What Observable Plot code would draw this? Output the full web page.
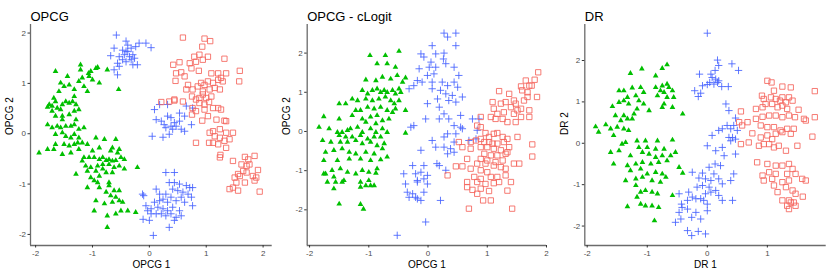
<!DOCTYPE html>
<html><head><meta charset="utf-8">
<script src="https://cdn.jsdelivr.net/npm/d3@7"></script>
<script src="https://cdn.jsdelivr.net/npm/@observablehq/plot@0.6"></script>
<style>
body{margin:0;background:#fff;font-family:"Liberation Sans",Arial,sans-serif}
#root{position:relative;width:831px;height:277px;overflow:hidden}
#root svg{position:absolute;top:0}
</style></head>
<body><div id="root"></div>
<script>
const tickValues = [-2, -1, 0, 1, 2];

const opcgGreen = [[-1.65,1.24],[-1.44,1.14],[-1.21,1.37],[-1.03,1.24],[-0.94,1.30],[-0.91,1.32],[-1.21,1.27],[-1.18,1.11],[-1.07,1.20],[-1.06,1.14],[-1.00,1.07],[-0.88,1.01],[-0.74,1.27],[-0.54,0.88],[-1.56,1.01],[-1.50,0.94],[-1.41,0.97],[-1.32,0.88],[-1.24,1.04],[-1.15,0.94],[-1.09,0.84],[-1.59,0.84],[-1.68,0.71],[-1.76,0.58],[-1.79,0.53],[-1.71,0.55],[-1.65,0.64],[-1.62,0.51],[-1.56,0.48],[-1.53,0.58],[-1.47,0.64],[-1.41,0.61],[-1.35,0.64],[-1.32,0.74],[-1.29,0.58],[-1.71,0.45],[-1.65,0.35],[-1.53,0.35],[-1.41,0.38],[-1.32,0.45],[-1.24,0.48],[-1.53,0.28],[-1.29,0.28],[-1.79,0.18],[-1.71,0.12],[-1.62,0.15],[-1.56,0.12],[-1.47,0.15],[-1.38,0.15],[-1.32,0.18],[-1.24,0.09],[-1.15,0.12],[-1.65,-0.01],[-1.53,0.02],[-1.47,-0.05],[-1.38,-0.08],[-1.32,-0.01],[-1.24,-0.08],[-1.65,-0.21],[-1.50,-0.21],[-1.41,-0.24],[-1.32,-0.21],[-1.26,-0.18],[-1.18,-0.18],[-1.09,-0.21],[-1.94,-0.38],[-1.79,-0.31],[-1.68,-0.31],[-1.53,-0.41],[-1.38,-0.38],[-1.24,-0.31],[-0.94,-0.08],[-0.79,-0.11],[-0.59,-0.11],[-0.65,-0.28],[-0.53,-0.31],[-0.56,-0.38],[-0.68,-0.34],[-0.88,-0.28],[-1.00,-0.34],[-1.15,-0.47],[-1.18,-0.54],[-1.06,-0.47],[-0.97,-0.47],[-0.88,-0.51],[-0.82,-0.47],[-0.76,-0.53],[-0.71,-0.51],[-0.65,-0.54],[-0.59,-0.53],[-0.50,-0.47],[-0.44,-0.51],[-1.12,-0.64],[-1.03,-0.67],[-0.91,-0.64],[-0.82,-0.61],[-0.71,-0.61],[-0.62,-0.67],[-0.53,-0.64],[-0.44,-0.70],[-0.21,-0.67],[-1.29,-0.80],[-1.09,-0.74],[-0.94,-0.74],[-0.82,-0.70],[-0.76,-0.77],[-0.65,-0.77],[-0.88,-0.84],[-1.03,-0.87],[-0.97,-0.93],[-0.91,-0.97],[-0.71,-0.97],[-1.09,-1.07],[-0.88,-1.07],[-0.71,-1.03],[-0.62,-1.13],[-0.53,-1.13],[-0.76,-1.16],[-0.68,-1.23],[-0.59,-1.26],[-0.53,-1.33],[-0.47,-1.36],[-0.94,-1.33],[-0.79,-1.39],[-0.65,-1.36],[-0.50,-1.53],[-0.38,-1.53],[-0.24,-1.56],[-0.97,-1.53],[-0.74,-1.63],[-0.59,-1.59],[-0.74,-1.86]];
const opcgBlue = [[-0.58,1.96],[-0.41,1.84],[-0.62,1.70],[-0.47,1.66],[-0.38,1.63],[-0.32,1.70],[-0.24,1.73],[-0.18,1.80],[-0.06,1.80],[0.03,1.71],[-0.68,1.55],[-0.53,1.53],[-0.44,1.57],[-0.35,1.53],[-0.29,1.57],[-0.26,1.50],[-0.32,1.47],[-0.41,1.43],[-0.47,1.47],[-0.56,1.40],[-0.62,1.27],[-0.53,1.34],[-0.29,1.37],[-0.21,1.37],[-0.56,1.17],[-0.41,1.64],[-0.38,1.76],[0.09,0.48],[0.18,0.58],[0.32,0.58],[0.53,0.41],[0.12,0.28],[0.21,0.25],[0.26,0.18],[0.32,0.35],[0.38,0.32],[0.44,0.22],[0.53,0.25],[0.62,0.35],[0.29,0.12],[0.38,0.15],[0.47,0.15],[0.56,0.09],[0.62,0.05],[0.76,0.51],[0.65,0.55],[0.05,-0.05],[0.24,-0.07],[0.35,-0.01],[0.41,0.09],[0.74,0.18],[0.29,-0.77],[0.44,-0.77],[0.12,-1.10],[0.35,-0.97],[0.44,-0.97],[0.53,-1.00],[0.65,-1.03],[0.71,-1.07],[0.76,-1.07],[0.41,-1.10],[0.50,-1.13],[0.59,-1.16],[0.68,-1.20],[0.29,-1.20],[0.38,-1.26],[0.24,-1.30],[0.18,-1.33],[0.09,-1.36],[0.32,-1.36],[0.47,-1.33],[0.56,-1.26],[0.15,-1.46],[0.24,-1.49],[0.32,-1.53],[0.41,-1.46],[0.53,-1.53],[0.03,-1.49],[-0.06,-1.43],[-0.12,-1.20],[-0.10,-1.23],[-0.03,-1.53],[0.03,-1.59],[0.12,-1.59],[0.21,-1.59],[0.29,-1.63],[0.38,-1.59],[0.47,-1.66],[0.56,-1.63],[-0.11,-1.70],[0,-1.72],[0.76,-1.43],[0.44,-1.72],[0.35,-1.86],[0.07,-2.02],[0.74,-1.26],[0.62,-1.36],[0.18,-1.20]];
const opcgRed = [[0.59,1.91],[0.97,1.89],[1.07,1.84],[0.93,1.73],[0.42,1.37],[0.53,1.42],[0.71,1.40],[0.82,1.43],[0.88,1.57],[0.79,1.53],[0.94,1.47],[1.03,1.53],[0.74,1.30],[0.87,1.25],[1.09,1.20],[1.21,1.20],[1.35,1.20],[1.32,1.49],[1.59,1.25],[1.58,1.04],[0.47,1.20],[0.56,1.22],[0.46,1.05],[0.62,1.14],[0.68,0.97],[0.76,0.88],[0.85,0.94],[0.91,1.01],[0.97,0.97],[1.03,1.04],[1.12,1.01],[1.21,1.07],[1.26,1.11],[1.29,1.04],[0.94,0.84],[1.06,0.88],[1.15,0.91],[1.24,0.88],[0.75,0.74],[0.82,0.68],[0.88,0.71],[0.94,0.78],[1.00,0.71],[1.09,0.74],[0.65,0.88],[0.44,0.66],[0.59,0.64],[0.76,0.51],[0.88,0.61],[0.97,0.58],[1.05,0.63],[1.12,0.51],[1.21,0.51],[1.26,0.48],[0.21,0.63],[0.44,0.68],[0.75,0.38],[0.82,0.45],[0.93,0.26],[1.03,0.35],[1.18,0.28],[1.35,0.25],[1.32,0.26],[0.97,0.48],[1.12,0.05],[1.24,0.09],[1.35,0.02],[1.47,0.02],[1.06,0.02],[1.15,-0.05],[1.24,-0.08],[1.32,-0.14],[1.05,-0.18],[1.12,-0.18],[1.21,-0.21],[1.41,-0.11],[1.24,-0.47],[1.25,-0.42],[1.35,-0.28],[0.82,-0.18],[1.47,-0.54],[1.68,-0.46],[1.74,-0.51],[1.85,-0.44],[1.62,-0.61],[1.71,-0.64],[1.76,-0.61],[1.65,-0.74],[1.71,-0.77],[1.56,-0.80],[1.50,-0.87],[1.59,-0.84],[1.53,-0.97],[1.68,-0.97],[1.82,-0.84],[1.88,-0.87],[1.85,-0.93],[1.91,-0.72],[1.41,-1.10],[1.47,-1.07],[1.56,-1.13],[1.94,-1.15],[0.35,0.64]];

const clogitGreen = [[-0.98,1.94],[-0.72,1.94],[-0.49,2.05],[-0.86,1.73],[-0.69,1.73],[-0.55,1.64],[-0.38,1.37],[-1.05,1.32],[-0.88,1.30],[-0.77,1.39],[-0.63,1.34],[-0.52,1.43],[-0.43,1.26],[-1.28,0.83],[-1.11,1.05],[-1.02,0.96],[-0.94,1.05],[-0.86,1.09],[-0.80,1.00],[-0.74,1.05],[-0.69,1.00],[-0.60,1.05],[-0.55,0.96],[-0.49,1.09],[-0.46,1.00],[-1.50,0.71],[-1.39,0.71],[-1.19,0.79],[-1.05,0.83],[-0.94,0.79],[-0.83,0.83],[-0.72,0.88],[-0.63,0.79],[-0.57,0.71],[-0.49,0.79],[-1.22,0.54],[-1.14,0.54],[-1.02,0.62],[-0.91,0.58],[-0.80,0.62],[-0.69,0.54],[-0.60,0.49],[-0.55,0.58],[-0.38,0.54],[-1.76,0.38],[-1.50,0.32],[-1.28,0.41],[-1.11,0.32],[-0.97,0.37],[-0.86,0.41],[-0.77,0.28],[-0.66,0.32],[-1.05,0.24],[-0.88,0.20],[-1.84,0.11],[-1.67,0.07],[-1.53,-0.02],[-1.45,-0.02],[-1.36,0.03],[-1.31,0.07],[-1.19,0.11],[-1.11,-0.02],[-0.97,0.07],[-0.88,-0.02],[-0.77,0.07],[-0.69,-0.02],[-1.50,-0.10],[-1.39,-0.14],[-1.28,-0.14],[-1.14,-0.10],[-1.02,-0.19],[-0.91,-0.14],[-0.80,-0.14],[-0.38,-0.04],[-1.78,-0.23],[-1.64,-0.27],[-1.48,-0.27],[-1.36,-0.27],[-1.22,-0.23],[-1.11,-0.31],[-0.97,-0.27],[-0.86,-0.36],[-0.74,-0.31],[-1.73,-0.53],[-1.59,-0.48],[-1.45,-0.44],[-1.33,-0.53],[-1.22,-0.57],[-1.05,-0.53],[-0.91,-0.57],[-0.77,-0.44],[-1.76,-0.74],[-1.53,-0.74],[-1.33,-0.70],[-1.14,-0.70],[-0.97,-0.74],[-0.80,-0.72],[-0.69,-0.65],[-1.62,-0.99],[-1.48,-0.95],[-1.36,-1.04],[-1.11,-0.99],[-0.86,-0.95],[-1.73,-1.08],[-1.59,-1.16],[-1.42,-1.25],[-1.22,-1.08],[-1.00,-1.04],[-0.88,-1.06],[-1.70,-1.29],[-1.56,-1.29],[-1.45,-1.29],[-1.14,-1.29],[-1.00,-1.25],[-0.97,-1.38],[-0.91,-1.38],[-1.59,-1.46],[-1.14,-1.42],[-1.05,-1.38],[-1.50,-1.85],[-1.14,-1.86],[-1.09,-1.98],[-1.76,-1.08]];
const clogitBlue = [[0.27,2.51],[0.47,2.51],[0.33,2.41],[0.47,2.19],[0.07,2.19],[-0.12,1.98],[0.13,1.98],[0.27,2.00],[0.26,1.85],[-0.07,1.90],[0.05,1.77],[-0.15,1.60],[0.02,1.64],[0.13,1.64],[0.30,1.73],[0.44,1.64],[-0.01,1.43],[0.10,1.47],[0.52,1.43],[-0.18,1.30],[-0.32,1.09],[-0.24,1.17],[-0.10,1.26],[0.07,1.26],[0.24,1.26],[0.33,1.17],[0.44,1.26],[0.07,1.09],[0.21,1.05],[0.30,0.96],[0.41,0.92],[0.50,1.13],[0.58,0.88],[-0.01,0.71],[0.16,0.83],[0.35,0.79],[0.47,0.75],[0.19,0.62],[0.27,0.45],[0.55,0.41],[-0.04,0.32],[0.19,0.32],[0.35,0.32],[0.75,0.32],[0.86,0.32],[-0.24,0.15],[-0.29,0.11],[0.44,0.15],[0.55,0.11],[0.58,0.07],[0.33,-0.06],[0.47,-0.06],[0.44,-0.27],[0.27,-0.14],[0.07,-0.23],[0.13,-0.40],[0.27,-0.40],[0.38,-0.44],[0.33,-0.57],[0.44,-0.53],[0.81,-0.19],[0.69,-0.23],[-0.12,-0.48],[0.83,0.03],[0.19,-0.87],[0.30,-0.99],[-0.07,-0.87],[-0.26,-0.87],[-0.21,-1.08],[-0.12,-1.04],[-0.01,-1.12],[-0.41,-1.08],[-0.18,-1.29],[-0.07,-1.21],[-0.38,-1.34],[-0.35,-1.55],[-0.26,-1.59],[-0.18,-1.72],[-0.12,-1.76],[-0.01,-1.34],[-0.32,-1.68],[-0.21,-1.68],[-0.07,-1.55],[0.21,-1.76],[-0.04,-2.31],[-0.52,-2.65],[0.15,-0.82],[-0.18,-1.25]];
const clogitRed = [[1.86,1.51],[1.65,1.30],[1.80,1.32],[1.71,1.17],[1.57,1.15],[1.75,1.17],[1.59,1.05],[1.68,1.00],[1.84,0.88],[1.68,0.88],[1.45,0.79],[1.62,0.79],[1.20,1.03],[1.37,0.96],[1.48,0.71],[1.09,0.75],[1.23,0.71],[1.31,0.75],[1.40,0.62],[1.11,0.58],[1.17,0.45],[1.28,0.49],[1.51,0.54],[1.57,0.58],[1.71,0.54],[1.71,0.37],[1.57,0.37],[1.45,0.45],[1.48,0.24],[1.06,0.37],[1.14,0.32],[1.26,0.32],[1.34,0.24],[0.89,0.37],[0.83,0.15],[0.89,0.11],[0.81,-0.23],[0.97,-0.04],[1.03,-0.14],[1.11,-0.06],[1.17,-0.04],[1.26,-0.14],[1.34,-0.19],[1.51,-0.14],[0.89,-0.19],[0.95,-0.27],[1.03,-0.27],[1.09,-0.31],[1.17,-0.31],[1.28,-0.27],[1.37,-0.40],[0.72,-0.27],[0.52,-0.27],[0.58,-0.40],[0.72,-0.44],[0.89,-0.40],[1.00,-0.40],[1.11,-0.44],[1.23,-0.48],[1.34,-0.53],[0.95,-0.57],[1.06,-0.61],[1.17,-0.61],[1.31,-0.57],[1.76,-0.33],[1.76,-0.64],[0.66,-0.70],[0.89,-0.70],[1.00,-0.74],[1.14,-0.78],[1.26,-0.74],[0.83,-0.82],[0.97,-0.82],[1.11,-0.87],[1.23,-0.91],[1.31,-0.95],[1.45,-0.82],[1.54,-0.82],[0.58,-0.89],[0.47,-0.89],[0.33,-1.12],[0.72,-0.95],[0.89,-0.99],[1.00,-1.04],[0.78,-1.16],[0.89,-1.21],[1.06,-1.16],[1.17,-1.16],[1.31,-1.12],[0.66,-1.29],[0.83,-1.29],[0.97,-1.34],[1.11,-1.32],[0.66,-1.42],[0.75,-1.49],[0.89,-1.46],[1.03,-1.52],[1.20,-1.29],[1.40,-1.29],[0.69,-1.97],[0.93,-1.76],[1.06,-1.76],[1.42,-1.97],[0.83,-1.59],[1.34,-1.51]];

const drGreen = [[-0.67,1.90],[-0.75,1.81],[-1.09,1.80],[-1.28,1.69],[-0.86,1.63],[-1.47,1.27],[-1.39,1.27],[-1.25,1.34],[-1.33,1.11],[-1.19,1.15],[-1.11,1.35],[-1.06,1.23],[-0.86,1.35],[-0.75,1.39],[-0.67,1.43],[-0.64,1.35],[-0.78,1.27],[-0.72,1.23],[-0.58,1.27],[-0.56,1.11],[-0.83,1.15],[-0.67,1.11],[-1.58,0.89],[-1.47,0.99],[-1.39,1.03],[-1.31,0.95],[-1.14,1.03],[-1.17,0.83],[-1.06,0.95],[-0.97,0.79],[-1.22,0.71],[-0.72,0.95],[-0.58,0.87],[-0.75,0.87],[-0.41,0.71],[-1.53,0.67],[-1.39,0.67],[-1.33,0.59],[-1.44,0.55],[-1.25,0.59],[-1.86,0.40],[-1.69,0.45],[-1.81,0.27],[-1.61,0.35],[-1.50,0.39],[-1.39,0.35],[-1.31,0.31],[-1.56,0.19],[-1.42,-0.02],[-1.36,0.02],[-1.17,0.06],[-1.03,0.06],[-0.83,0.06],[-0.58,0.08],[-1.61,-0.22],[-1.47,-0.18],[-1.14,-0.10],[-1.00,-0.10],[-0.86,-0.14],[-0.72,-0.14],[-0.53,-0.22],[-1.28,-0.30],[-1.08,-0.22],[-0.97,-0.26],[-0.86,-0.34],[-0.75,-0.30],[-0.61,-0.30],[-1.56,-0.50],[-1.33,-0.54],[-1.19,-0.50],[-1.08,-0.46],[-0.94,-0.50],[-0.81,-0.46],[-0.67,-0.42],[-1.28,-0.66],[-1.11,-0.62],[-1.00,-0.74],[-0.86,-0.70],[-0.75,-0.74],[-0.47,-0.58],[-0.41,-0.72],[-1.36,-0.90],[-1.19,-0.86],[-1.08,-0.82],[-0.92,-0.90],[-0.78,-0.94],[-0.69,-0.82],[-1.19,-1.02],[-1.03,-1.14],[-0.92,-1.18],[-0.83,-1.22],[-0.58,-1.26],[-1.17,-1.30],[-1.11,-1.47],[-1.03,-1.51],[-0.92,-1.51],[-0.81,-1.55],[-1.33,-1.53],[-0.88,-1.87],[-1.11,-1.18]];
const drBlue = [[0,2.66],[0.17,2.01],[0.19,1.88],[0.13,1.76],[0.41,1.92],[0.52,1.76],[-0.13,1.67],[0.06,1.67],[0.08,1.59],[0.14,1.55],[0.17,1.47],[0.04,1.47],[0,1.42],[-0.08,1.39],[0.11,1.43],[0.19,1.51],[0.24,1.37],[0.35,1.37],[-0.21,1.27],[-0.11,1.21],[-0.15,1.13],[0.31,0.95],[0.36,0.79],[0.47,0.61],[0.33,0.43],[0.39,0.35],[0.44,0.43],[0.50,0.31],[0.36,0.14],[0.42,0.14],[0.47,0.10],[0.08,0.19],[0.19,0.31],[0.25,0.35],[0,-0.06],[0.14,-0.18],[0.25,-0.10],[0.39,0.06],[0.47,-0.26],[0.28,-0.30],[0.13,-0.50],[0.03,-0.58],[0.11,-0.74],[0.22,-0.54],[0.44,-0.74],[-0.03,-0.86],[0.06,-0.90],[0.19,-0.86],[0.25,-0.98],[0.39,-0.90],[-0.25,-0.70],[-0.08,-0.72],[-0.17,-1.06],[-0.08,-1.02],[0.06,-1.18],[0.14,-1.14],[0.19,-1.26],[0.25,-1.38],[0.42,-1.38],[-0.31,-1.18],[-0.25,-1.30],[-0.19,-1.34],[-0.11,-1.34],[-0.06,-1.38],[0,-1.47],[-0.33,-1.38],[-0.43,-1.47],[-0.42,-1.55],[-0.33,-1.59],[-0.19,-1.67],[-0.11,-1.83],[0,-1.63],[-0.26,-1.79],[-0.47,-1.67],[-0.53,-1.91],[-0.44,-1.83],[-0.33,-2.11],[-0.26,-2.23],[-0.15,-2.13],[-0.03,-2.19],[-0.47,-1.22],[-0.03,-1.22],[0.03,-1.06],[-0.14,-0.84]];
const drRed = [[1.00,1.51],[1.07,1.47],[1.11,1.27],[1.25,1.37],[1.39,1.35],[1.79,1.26],[0.91,1.15],[0.94,1.07],[1.06,1.11],[1.14,1.07],[1.25,1.11],[1.36,1.11],[1.21,1.03],[1.31,0.99],[1.42,1.03],[0.97,0.95],[1.08,0.95],[1.17,0.87],[1.25,0.91],[1.33,0.83],[1.52,0.81],[0.92,0.87],[0.81,0.83],[0.56,0.77],[0.92,0.64],[1.03,0.67],[1.14,0.67],[1.25,0.63],[1.36,0.67],[1.46,0.63],[1.61,0.59],[1.79,0.63],[0.67,0.51],[0.81,0.59],[0.89,0.43],[1.00,0.39],[1.11,0.39],[1.22,0.31],[1.33,0.35],[1.44,0.35],[1.64,0.55],[0.53,0.51],[0.58,0.43],[0.75,0.24],[0.89,0.14],[1.00,0.19],[1.08,0.10],[1.14,0.23],[1.25,0.27],[1.39,0.23],[1.75,0.16],[0.56,-0.02],[0.69,0.02],[0.86,-0.06],[0.94,-0.02],[1.03,-0.02],[1.11,-0.10],[1.19,-0.06],[1.31,-0.18],[1.50,-0.06],[0.83,-0.46],[1.00,-0.50],[1.14,-0.54],[1.25,-0.54],[1.36,-0.50],[1.42,-0.62],[1.03,-0.70],[1.14,-0.74],[1.33,-0.74],[1.47,-0.74],[1.58,-0.86],[1.64,-0.90],[0.92,-0.78],[0.94,-0.90],[1.08,-0.86],[1.25,-0.94],[1.36,-0.90],[1.11,-1.02],[1.17,-1.18],[1.31,-1.06],[1.42,-1.14],[1.47,-1.22],[1.59,-1.29],[1.25,-1.38],[1.36,-1.38],[1.44,-1.43],[1.47,-1.51],[1.33,-1.51],[1.36,-1.59],[1.39,-1.43]];

const panels = [
  {title: "OPCG", xLabel: "OPCG 1", yLabel: "OPCG 2", green: opcgGreen, blue: opcgBlue, red: opcgRed,
   left: 0, width: 277, ml: 30, mr: 5.3, xDomain: [-2.09, 2.16], yDomain: [-2.22, 2.17]},
  {title: "OPCG - cLogit", xLabel: "OPCG 1", yLabel: "OPCG 2", green: clogitGreen, blue: clogitBlue, red: clogitRed,
   left: 277, width: 277, ml: 29.7, mr: 8, xDomain: [-2.04, 2.0], yDomain: [-2.91, 2.73]},
  {title: "DR", xLabel: "DR 1", yLabel: "DR 2", green: drGreen, blue: drBlue, red: drRed,
   left: 554, width: 277, ml: 30.3, mr: 5.3, xDomain: [-2.04, 1.98], yDomain: [-2.47, 2.87]}
];

const root = document.getElementById("root");
const fontFamily = '"Liberation Sans", Arial, sans-serif';

for (const p of panels) {
  const inDom = (dom) => tickValues.filter(t => t >= dom[0] && t <= dom[1]);
  const chart = Plot.plot({
    width: p.width, height: 277,
    marginLeft: p.ml, marginRight: p.mr, marginTop: 24, marginBottom: 32,
    x: {domain: p.xDomain},
    y: {domain: p.yDomain},
    style: {fontFamily, fontSize: "8px", color: "#4d4d4d", background: "transparent", overflow: "visible"},
    marks: [
      Plot.dot(p.green, {x: d => d[0], y: d => d[1], symbol: "triangle", r: 2.1, fill: "#00bf00", stroke: "none"}),
      Plot.dot(p.blue, {x: d => d[0], y: d => d[1], symbol: "plus", r: 2.5, stroke: "#4763ff", strokeWidth: 1, strokeOpacity: 0.85}),
      Plot.dot(p.red, {x: d => d[0], y: d => d[1], symbol: "square", r: 3, stroke: "#f5645c", strokeWidth: 1, fill: "none", strokeOpacity: 0.85}),
      Plot.ruleX([p.xDomain[0]], {stroke: "#6b6b6b", strokeWidth: 1.3}),
      Plot.ruleY([p.yDomain[0]], {stroke: "#6b6b6b", strokeWidth: 1.3}),
      Plot.axisX({ticks: inDom(p.xDomain), tickSize: 2.5, tickPadding: 2.5, tickFormat: d => String(d), label: null, stroke: "#333", fill: "#4d4d4d"}),
      Plot.axisY({ticks: inDom(p.yDomain), tickSize: 2.5, tickPadding: 2, tickFormat: d => String(d), label: null, stroke: "#333", fill: "#4d4d4d"}),
      Plot.text([p.xLabel], {text: d => d, frameAnchor: "bottom", dy: 22, fontSize: 10, fill: "#000"}),
      Plot.text([p.yLabel], {text: d => d, frameAnchor: "left", dx: -20.5, rotate: -90, fontSize: 10, fill: "#000"}),
      Plot.text([p.title], {text: d => d, frameAnchor: "top-left", dy: -13, textAnchor: "start", fontSize: 13, fill: "#000"})
    ]
  });
  chart.style.left = p.left + "px";
  root.appendChild(chart);
}
</script>
</body></html>
